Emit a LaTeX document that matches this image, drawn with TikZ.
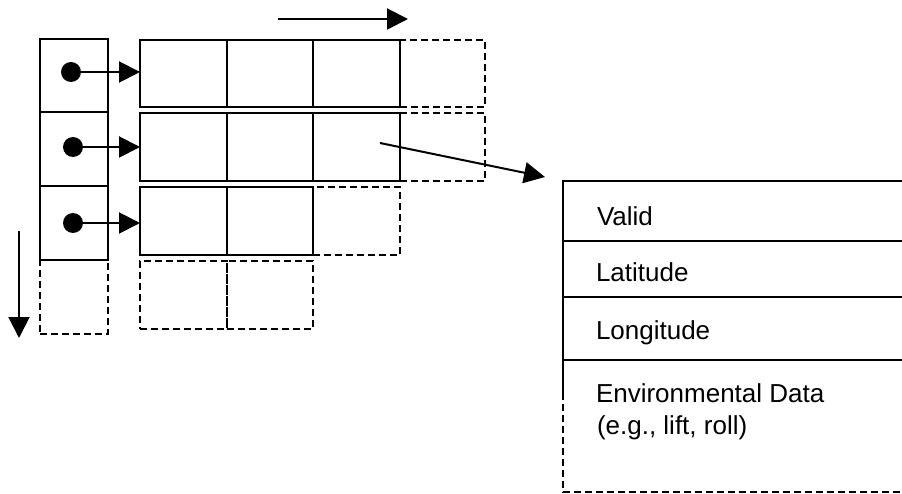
\documentclass[tikz,border=0pt]{standalone}
\usepackage{fontspec}
\setmainfont{Liberation Sans}
\usetikzlibrary{arrows.meta}
\begin{document}
\begin{tikzpicture}[x=1pt,y=-1pt,line width=2pt,
  cell/.style={draw, rectangle, inner sep=0pt, outer sep=0pt},
  dcell/.style={cell, dash pattern=on 7pt off 4pt},
  dot/.style={circle, fill=black, inner sep=0pt, minimum size=20pt},
  arr/.style={-{Triangle[length=21pt,width=21pt]}},
  lbl/.style={anchor=base west, inner sep=0pt, font=\fontsize{26}{31}\selectfont},
  dsh/.style={dash pattern=on 7pt off 4pt}]
\useasboundingbox (0,0) rectangle (902,494);
% left column
\node[cell, minimum width=68pt, minimum height=73pt] (l1) at (74,75.5) {};
\node[cell, minimum width=68pt, minimum height=74pt] (l2) at (74,149) {};
\node[cell, minimum width=68pt, minimum height=74pt] (l3) at (74,223) {};
\node[dcell, minimum width=68pt, minimum height=74pt] (l4) at (74,297) {};
% row 1
\node[dcell, minimum width=85pt, minimum height=67pt] (a14) at (442.5,73.5) {};
\node[cell, minimum width=87pt, minimum height=67pt] (a11) at (183.5,73.5) {};
\node[cell, minimum width=86pt, minimum height=67pt] (a12) at (270,73.5) {};
\node[cell, minimum width=87pt, minimum height=67pt] (a13) at (356.5,73.5) {};
% row 2
\node[dcell, minimum width=85pt, minimum height=68pt] (a24) at (442.5,147) {};
\node[cell, minimum width=87pt, minimum height=68pt] (a21) at (183.5,147) {};
\node[cell, minimum width=86pt, minimum height=68pt] (a22) at (270,147) {};
\node[cell, minimum width=87pt, minimum height=68pt] (a23) at (356.5,147) {};
% row 3
\node[dcell, minimum width=87pt, minimum height=68pt] (a33) at (356.5,221) {};
\node[cell, minimum width=87pt, minimum height=68pt] (a31) at (183.5,221) {};
\node[cell, minimum width=86pt, minimum height=68pt] (a32) at (270,221) {};
% row 4
\node[dcell, minimum width=87pt, minimum height=68pt] (a41) at (183.5,295) {};
\node[dcell, minimum width=86pt, minimum height=68pt] (a42) at (270,295) {};
% pointers
\node[dot] (d1) at (71,72) {};
\node[dot] (d2) at (73,147) {};
\node[dot] (d3) at (73,223) {};
\draw[arr] (d1.center) -- (d1.center -| a11.west);
\draw[arr] (d2.center) -- (d2.center -| a21.west);
\draw[arr] (d3.center) -- (d3.center -| a31.west);
% growth arrows
\coordinate (ht) at (278,19);
\coordinate (hh) at (408,19);
\draw[arr] (ht) -- (hh);
\coordinate (vt) at (19,231);
\coordinate (vh) at (19,338);
\draw[arr] (vt) -- (vh);
% record
\coordinate (src) at (380,143);
\coordinate (rec) at (545,177);
\draw[arr] (src) -- (rec);
\draw (562.5,181) -- (902,181);
\draw (562.5,241) -- (902,241);
\draw (562.5,297) -- (902,297);
\draw (562.5,360) -- (902,360);
\draw (562.5,180) -- (562.5,393);
\draw[dsh] (562.5,393) -- (562.5,492) -- (902,492);
\node[lbl] (valid) at (596,225.5) {Valid};
\node[lbl] (lat) at (595,282) {Latitude};
\node[lbl] (lon) at (595,339) {Longitude};
\node[lbl] (env1) at (595,402) {Environmental Data};
\node[lbl] (env2) at (596,434) {(e.g., lift, roll)};
\end{tikzpicture}
\end{document}
